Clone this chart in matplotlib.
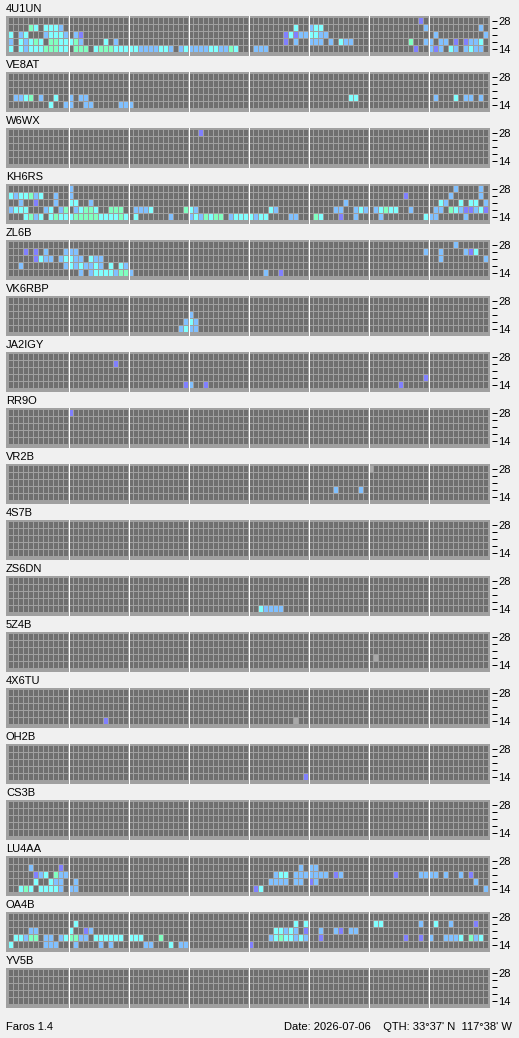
import numpy as np
from matplotlib import pyplot as plt

plt.rcParams['font.family'] = ['Liberation Sans', 'DejaVu Sans']

# spots per station, one string per band row (28 MHz at top ... 14 MHz at bottom)
# token = column (15-min slot, 0..95) + colour code
s_4u1un  = ['82p',
            '4g 5c 7c 8c 9c 10b 57c 60b 61c 62c 83b 94b',
            '0c 2b 3c 7b 8c 9c 10c 11b 13b 14p 55p 56c 57p 58b 59b 60c 61c 62b 63b 85b 95b',
            '0b 2c 3b 4c 5g 6c 8g 9g 10c 11c 12c 13g 14b 19c 21b 55p 57b 60b 61b 62b 64b 66c 67b 68b 80g 83b 84b 86b 87b 89p 91p 92b 93b 94c',
            '0c 2c 3b 4c 5c 6c 7g 8g 9g 10c 11c 13g 14g 15g 17c 18g 19g 20g 21c 22c 23c 24c 25c 26b 27b 28b 29b 30c 31c 32b 34b 35c 36b 37b 38b 39b 40c 41c 42b 43b 44g 45c 49b 50b 51b 81p 84b 85p 86b 88c 89b 91b 92c 93b 94b']
s_ve8at  = ['', '', '',
            '1b 2b 3c 4g 6b 9c 12b 14b 15b 68c 69c 85b 89c 91b 92b 94b',
            '8c 11b 12b 15b 16b 22b 23b 24b']
s_w6wx   = ['38p', '', '', '', '']
s_kh6rs  = ['12b 89b 94b',
            '0c 1b 2c 3c 4g 5b 6c 9b 12b 79p 88b 94b',
            '2b 5p 9b 12c 13c 16b 67b 86c 87b 90c 92c 93c 95b',
            '0b 1c 2c 3c 7b 8c 10b 11g 13b 14c 15g 16g 17c 20g 21g 22g 25b 26b 27b 28c 35g 36c 37b 52c 53b 65b 66b 69b 70c 71b 73b 74c 75g 76c 77c 80b 85b 86b 88g 89c 90b 91p 92p 93b 94c 95p',
            '3c 4g 5b 6c 8c 9g 10c 11c 12c 13g 14g 15g 16g 17g 18c 19c 20c 21c 22g 23c 25c 32b 36b 37c 38b 39g 40c 41g 42g 44b 45c 46c 47c 48c 49b 50c 51c 56b 57b 61g 62c 66p 69b 74b 83c 84b 85b 91b']
s_zl6b   = ['89b',
            '3p 5p 7b 11b 12b 13b 83b 86b 91b 92p 93c',
            '5p 6c 7b 8b 10b 11c 12c 13b 14b 16c 17b 18b 86b 95b',
            '2b 11b 12c 13b 14c 15b 16b 17c 18b 20c 22c 23b',
            '14b 16b 17c 18c 19c 20c 21b 22g 23g 24b 51b 54p']
s_vk6rbp = ['', '', '36b', '35b 36c 37b', '34b 35c 36b 37b']
s_ja2igy = ['', '21p', '', '83p', '35p 36b 39p 78p']
s_rr9o   = ['12p', '', '', '', '']
s_vr2b   = ['72x', '', '', '65b 70b', '']
s_4s7b   = ['', '', '', '', '']
s_zs6dn  = ['', '', '', '', '50c 51b 52b 53b 54b']
s_5z4b   = ['', '', '', '73x', '']
s_4x6tu  = ['', '', '', '', '19p 57x']
s_oh2b   = ['', '', '', '', '59p']
s_cs3b   = ['', '', '', '', '']
s_lu4aa  = ['',
            '4b 10p 58b 60b 61b',
            '5p 6b 7c 9g 10b 11b 53b 54c 55c 57b 58b 59b 60b 61b 62b 63b 65p 66b 77p 82b 83b 84b 85b 87b 90b 92p',
            '5c 8c 9b 10b 13b 52b 53b 54b 55b 57b 58b 60p 61b 93b',
            '2c 3g 4c 6c 7c 8c 9c 10b 12b 13b 49p 50c 95b']
s_oa4b   = ['',
            '13c 57c 59c 73c 74c 82b 85c 88b 93p',
            '4b 5b 12c 15p 16b 53c 54c 55b 56c 57b 59p 62b 65b 66p 68b 69b',
            '1c 2c 3b 4g 5g 7b 8b 10b 11c 12g 13g 14b 15b 17c 18c 19c 20c 21c 22c 24c 25c 26c 30g 52b 53c 54g 55c 56c 57b 58c 59b 62p 79p 82p 84b 87b 88b 89b 90c 92g 93b 94c',
            '0c 7b 8b 9b 13b 18b 20b 27b 28b 32c 34b 35b 48p']
s_yv5b   = ['', '', '', '', '']

stations = [('4U1UN', s_4u1un), ('VE8AT', s_ve8at), ('W6WX', s_w6wx), ('KH6RS', s_kh6rs),
            ('ZL6B', s_zl6b), ('VK6RBP', s_vk6rbp), ('JA2IGY', s_ja2igy), ('RR9O', s_rr9o),
            ('VR2B', s_vr2b), ('4S7B', s_4s7b), ('ZS6DN', s_zs6dn), ('5Z4B', s_5z4b),
            ('4X6TU', s_4x6tu), ('OH2B', s_oh2b), ('CS3B', s_cs3b), ('LU4AA', s_lu4aa),
            ('OA4B', s_oa4b), ('YV5B', s_yv5b)]
band_labels = ['28', '', '', '', '14']
n_slots = 96
footer_left  = 'Faros 1.4'
footer_right = "Date: 2026-07-06    QTH: 33°37' N  117°38' W"

cmap = {'.': '#6f6f6f', 'c': '#80ffff', 'b': '#80c0ff', 'g': '#80ffc0',
        'p': '#8080ff', 'x': '#a8a8a8'}


def grid_codes(rows):
    g = np.full((len(rows), n_slots), '.', dtype='<U1')
    for r, s in enumerate(rows):
        for tok in s.split():
            g[r, int(tok[:-1])] = tok[-1]
    return g


W, H = 519, 1038
fig = plt.figure(figsize=(W/100, H/100), dpi=100, facecolor='#f0f0f0')

x0, pw, ph, top0, pitch = 6, 484, 40, 16, 56
for i, (name, rows) in enumerate(stations):
    yt = top0 + pitch*i
    ax = fig.add_axes([x0/W, 1 - (yt+ph)/H, pw/W, ph/H])
    ax.set_facecolor('#a0a0a0')
    g = grid_codes(rows)
    rr, cc = np.meshgrid(np.arange(5), np.arange(n_slots), indexing='ij')
    cols = [cmap[v] for v in g.ravel()]
    ax.bar(cc.ravel(), 6/7, bottom=rr.ravel() + 1/7, width=0.8, align='edge',
           color=cols, linewidth=0, antialiased=False)
    for j in range(1, 8):
        ax.axvline(12*j - 0.1, color='white', lw=0.72, antialiased=False)
    ax.set_xlim(-0.6, 96.2)
    ax.set_ylim(39/7, -1/7)
    for sp in ax.spines.values():
        sp.set_visible(False)
    ax.set_xticks([])
    ax.yaxis.tick_right()
    ax.spines['right'].set_position(('outward', 1.5))
    ax.set_yticks(np.arange(5) + 4/7)
    ax.set_yticklabels(band_labels, fontsize=8)
    ax.tick_params(axis='y', length=3.6, width=0.72, pad=1, color='black')
    ax.annotate(name, xy=(0, 1), xycoords='axes fraction', xytext=(0, 4),
                textcoords='offset pixels', ha='left', va='baseline', fontsize=8)

fig.text(6/W, 1 - 1030/H, footer_left, ha='left', va='baseline', fontsize=8)
fig.text(512/W, 1 - 1030/H, footer_right, ha='right', va='baseline', fontsize=8)

plt.savefig('out.png', dpi=100, facecolor=fig.get_facecolor())
